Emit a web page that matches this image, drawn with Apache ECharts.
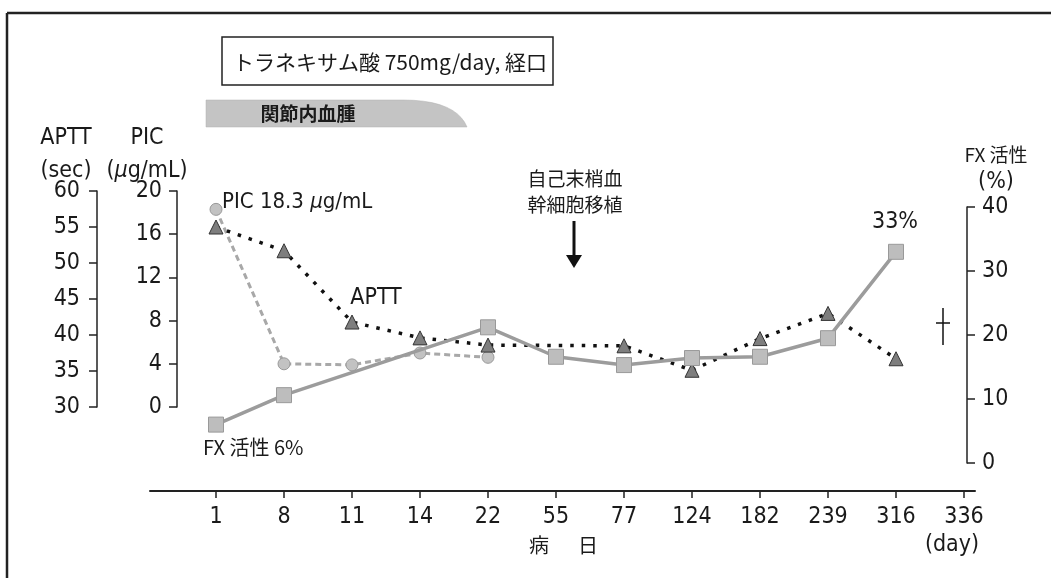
<!DOCTYPE html>
<html>
<head>
<meta charset="utf-8">
<script src="https://cdn.jsdelivr.net/npm/echarts@6/dist/echarts.min.js"></script>
<style>
  html, body { margin: 0; padding: 0; background: #fff; }
  #main { width: 1051px; height: 578px; }
</style>
</head>
<body>
<div id="main"></div>
<script>
// 病日 (day) on the x axis
const days = ['1', '8', '11', '14', '22', '55', '77', '124', '182', '239', '316', '336']
// APTT (sec), left outer axis
const apttSec = [55, 51.7, 41.8, 39.6, 38.6, null, 38.5, 35.1, 39.5, 43.0, 36.7, null]
// PIC (ug/mL), left inner axis
const picUgMl = [18.3, 4.0, 3.9, 5.0, 4.6, null, null, null, null, null, null, null]
// FX 活性 (%), right axis
const fxActivity = [6, 10.6, null, null, 21.2, 16.6, 15.3, 16.4, 16.6, 19.5, 33, null]
// axis ranges [min, max, step]
const apttRange = [30, 60, 5]
const picRange = [0, 20, 4]
const fxRange = [0, 40, 10]

const NARROW = '"Liberation Sans Narrow", "DejaVu Sans Condensed", "Liberation Sans", sans-serif'
const JP = '"Noto Sans CJK JP", sans-serif'
const INK = '#1a1a1a'

var chart = echarts.init(document.getElementById('main'))

function yAxisOf (grid, pos, offset, range, margin) {
  return {
    type: 'value',
    gridIndex: grid,
    position: pos,
    offset: offset,
    min: range[0],
    max: range[1],
    interval: range[2],
    axisLine: { show: true, lineStyle: { color: '#222', width: 1.5 } },
    axisTick: { show: true, length: 8, lineStyle: { color: '#222', width: 1.5 } },
    axisLabel: { margin: margin, color: INK, fontFamily: NARROW, fontSize: 23 },
    splitLine: { show: false }
  }
}

function txt (x, y, text, size, family, align, extra) {
  return {
    type: 'text',
    x: x,
    y: y,
    z: 100,
    style: Object.assign({
      text: text,
      fontSize: size,
      fontFamily: family,
      fill: INK,
      align: align || 'center',
      verticalAlign: 'middle'
    }, extra || {})
  }
}

// outline of the grey "関節内血腫" band, rounded off at the right end
function bandOutline () {
  var pts = [[206, 100], [403, 100]]
  for (var t = 0.1; t <= 1.001; t += 0.1) {
    var u = 1 - t
    pts.push([
      u * u * u * 403 + 3 * u * u * t * 440 + 3 * u * t * t * 460 + t * t * t * 467,
      u * u * u * 100 + 3 * u * u * t * 100 + 3 * u * t * t * 110 + t * t * t * 127
    ])
  }
  pts.push([206, 127])
  return pts
}

var option = {
  backgroundColor: '#fff',
  animation: false,
  grid: [
    { left: 216, width: 748, top: 191, height: 216 },
    { left: 216, width: 748, top: 207, height: 256 },
    { left: 150, width: 825, top: 400, height: 91 }
  ],
  xAxis: [
    {
      type: 'category',
      gridIndex: 0,
      data: days,
      boundaryGap: false,
      position: 'bottom',
      offset: 84,
      axisLine: { show: false, onZero: false },
      axisTick: { show: true, interval: 0, length: 7, lineStyle: { color: '#222', width: 1.5 } },
      axisLabel: { interval: 0, margin: 15, color: INK, fontFamily: NARROW, fontSize: 23 }
    },
    { type: 'category', gridIndex: 1, data: days, boundaryGap: false, show: false },
    {
      // long baseline of the day axis
      type: 'value',
      gridIndex: 2,
      min: 0,
      max: 1,
      axisLine: { show: true, onZero: false, lineStyle: { color: '#222', width: 2 } },
      axisTick: { show: false },
      axisLabel: { show: false },
      splitLine: { show: false }
    }
  ],
  yAxis: [
    yAxisOf(0, 'left', 119, apttRange, 17),
    yAxisOf(0, 'left', 39, picRange, 15),
    yAxisOf(1, 'right', 3, fxRange, 15),
    { type: 'value', gridIndex: 2, show: false }
  ],
  series: [
    {
      name: 'PIC',
      type: 'line',
      xAxisIndex: 0,
      yAxisIndex: 1,
      data: picUgMl,
      symbol: 'circle',
      symbolSize: 12,
      itemStyle: { color: '#c2c2c2', borderColor: '#9a9a9a', borderWidth: 1 },
      lineStyle: { color: '#a8a8a8', width: 3, type: [6, 4] },
      z: 3
    },
    {
      name: 'APTT',
      type: 'line',
      xAxisIndex: 0,
      yAxisIndex: 0,
      data: apttSec,
      connectNulls: true,
      symbol: 'triangle',
      symbolSize: 14,
      itemStyle: { color: '#7e7e7e', borderColor: '#333', borderWidth: 1 },
      lineStyle: { color: '#111', width: 3.5, type: [3.5, 8] },
      z: 4
    },
    {
      name: 'FX',
      type: 'line',
      xAxisIndex: 1,
      yAxisIndex: 2,
      data: fxActivity,
      connectNulls: true,
      symbol: 'rect',
      symbolSize: 15,
      itemStyle: { color: '#bdbdbd', borderColor: '#999', borderWidth: 1 },
      lineStyle: { color: '#9c9c9c', width: 3.5 },
      z: 5
    }
  ],
  graphic: [
    // frame (left and top edges)
    { type: 'line', shape: { x1: 7, y1: 13, x2: 7, y2: 578 }, style: { stroke: '#222', lineWidth: 2.5 } },
    { type: 'line', shape: { x1: 7, y1: 13, x2: 1051, y2: 13 }, style: { stroke: '#222', lineWidth: 2.5 } },
    // drug box
    { type: 'rect', shape: { x: 222, y: 37, width: 331, height: 48 }, style: { fill: '#fff', stroke: '#222', lineWidth: 1.5 } },
    txt(390, 62, 'トラネキサム酸 750mg/day, 経口', 21, JP),
    // hemarthrosis band
    { type: 'polygon', shape: { points: bandOutline() }, style: { fill: '#c4c4c4', stroke: '#b0b0b0', lineWidth: 0.5 } },
    txt(308, 114, '関節内血腫', 19, JP, 'center', { fontWeight: 'bold' }),
    // axis names
    txt(66, 138, 'APTT', 23, NARROW),
    txt(66, 171, '(sec)', 23, NARROW),
    txt(147, 138, 'PIC', 23, NARROW),
    {
      type: 'text', x: 147, y: 171, z: 100,
      style: {
        text: '({i|μ}g/mL)',
        fontSize: 23, fontFamily: NARROW, fill: INK, align: 'center', verticalAlign: 'middle',
        rich: { i: { fontSize: 23, fontFamily: NARROW, fontStyle: 'italic', fill: INK } }
      }
    },
    txt(996, 155, 'FX 活性', 19, JP),
    txt(996, 182, '(%)', 23, NARROW),
    // day axis names
    txt(539, 545, '病', 20, JP),
    txt(588, 545, '日', 20, JP),
    txt(952, 545, '(day)', 23, NARROW),
    // series labels
    {
      type: 'text', x: 222, y: 202, z: 100,
      style: {
        text: 'PIC 18.3 {i|μ}g/mL',
        fontSize: 22, fontFamily: NARROW, fill: INK, align: 'left', verticalAlign: 'middle',
        rich: { i: { fontSize: 22, fontFamily: NARROW, fontStyle: 'italic', fill: INK } }
      }
    },
    txt(376, 298, 'APTT', 23, NARROW),
    txt(203, 447, 'FX 活性 6%', 20, JP, 'left'),
    txt(895, 222, '33%', 23, NARROW),
    // transplant annotation
    txt(575, 179, '自己末梢血', 19, JP),
    txt(575, 205, '幹細胞移植', 19, JP),
    { type: 'line', shape: { x1: 574, y1: 221, x2: 574, y2: 258 }, style: { stroke: '#111', lineWidth: 3 } },
    { type: 'polygon', shape: { points: [[566, 255], [582, 255], [574, 268]] }, style: { fill: '#111' } },
    // dagger at day 336
    { type: 'line', shape: { x1: 943, y1: 308, x2: 943, y2: 345 }, style: { stroke: '#111', lineWidth: 1.5 } },
    { type: 'line', shape: { x1: 936, y1: 323, x2: 950, y2: 323 }, style: { stroke: '#111', lineWidth: 1.5 } }
  ]
}

chart.setOption(option)
</script>
</body>
</html>
